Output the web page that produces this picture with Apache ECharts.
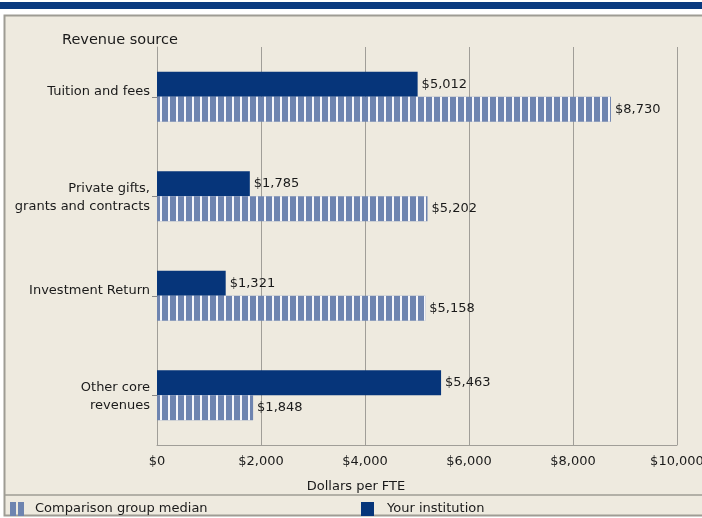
<!DOCTYPE html>
<html>
<head>
<meta charset="utf-8">
<script src="https://cdn.jsdelivr.net/npm/echarts@6/dist/echarts.min.js"></script>
<style>
html,body{margin:0;padding:0;background:#fff;}
#chart{width:702px;height:518px;}
</style>
</head>
<body>
<div id="chart"></div>
<script>
var categories = ['Tuition and fees', 'Private gifts,\ngrants and contracts', 'Investment Return', 'Other core\nrevenues'];
var yourInstitution = [5012, 1785, 1321, 5463];
var comparisonMedian = [8730, 5202, 5158, 1848];
var xMin = 0, xMax = 10000, xInterval = 2000;
var seriesNames = ['Comparison group median', 'Your institution'];

var FONT = 'DejaVu Sans';
var DARK = '#06357A';
var STRIPE = '#6E84B0';
var BG = '#EEEADF';
var GRID = '#A09E98';
var TXT = '#1a1a1a';

function money(v) {
  return '$' + String(v).replace(/\B(?=(\d{3})+(?!\d))/g, ',');
}

var chart = echarts.init(document.getElementById('chart'));
chart.setOption({
  backgroundColor: '#fff',
  animation: false,
  title: {
    text: 'Revenue source', left: 57, top: 28,
    textStyle: { fontFamily: FONT, fontSize: 14.5, fontWeight: 'normal', color: TXT }
  },
  graphic: [
    { type: 'rect', z: -10, shape: { x: 0, y: 2, width: 702, height: 7 }, style: { fill: '#0A3A7F' } },
    { type: 'rect', z: -10, shape: { x: 4.5, y: 15.5, width: 720, height: 500 }, style: { fill: BG, stroke: '#9E9C94', lineWidth: 2 } },
    { type: 'line', z: -9, shape: { x1: 5, y1: 495, x2: 702, y2: 495 }, style: { stroke: '#9E9C94', lineWidth: 1.5 } }
  ],
  grid: { left: 157, right: 25, top: 47, bottom: 73, containLabel: false, outerBoundsMode: 'none' },
  legend: [
    {
      left: 5, top: 497, itemWidth: 14, itemHeight: 14,
      data: [{ name: seriesNames[0], icon: 'path://M0,0h6v14h-6z M8,0h6v14h-6z', itemStyle: { color: STRIPE, decal: 'none' } }],
      textStyle: { fontFamily: FONT, fontSize: 13, color: TXT, padding: [0, 0, 0, 6] }
    },
    {
      left: 356, top: 497, itemWidth: 13, itemHeight: 14,
      data: [{ name: seriesNames[1], icon: 'rect' }],
      textStyle: { fontFamily: FONT, fontSize: 13, color: TXT, padding: [0, 0, 0, 8] }
    }
  ],
  xAxis: {
    type: 'value', min: xMin, max: xMax, interval: xInterval,
    name: 'Dollars per FTE', nameLocation: 'middle', nameGap: 35,
    nameTextStyle: { fontFamily: FONT, fontSize: 13, color: TXT, padding: [0, 122, 0, 0] },
    axisLine: { show: true, lineStyle: { color: GRID, width: 1 } },
    axisTick: { show: false },
    axisLabel: { formatter: money, margin: 10, fontFamily: FONT, fontSize: 13, color: TXT },
    splitLine: { show: true, lineStyle: { color: GRID, width: 1 } }
  },
  yAxis: {
    type: 'category', data: categories, inverse: true,
    axisLine: { show: true, lineStyle: { color: GRID, width: 1 } },
    axisTick: { show: true, alignWithLabel: true, length: 5, lineStyle: { color: '#888' } },
    axisLabel: {
      margin: 7, fontFamily: FONT, fontSize: 13, color: TXT,
      formatter: function (v) {
        if (v.indexOf('\n') < 0) return '{s|' + v + '}';
        return v.split('\n').map(function (l) { return '{m|' + l + '}'; }).join('\n');
      },
      rich: {
        s: { fontFamily: FONT, fontSize: 13, color: TXT, padding: [0, 0, 11, 0] },
        m: { fontFamily: FONT, fontSize: 13, color: TXT, lineHeight: 18, padding: [3, 0, 0, 0] }
      }
    },
    splitLine: { show: false }
  },
  series: [
    {
      name: seriesNames[1], type: 'bar', data: yourInstitution,
      barWidth: 25, barGap: '0%',
      itemStyle: { color: DARK },
      label: { show: true, position: 'right', distance: 4, formatter: function (p) { return money(p.value); }, fontFamily: FONT, fontSize: 13, color: TXT }
    },
    {
      name: seriesNames[0], type: 'bar', data: comparisonMedian,
      barWidth: 25, barGap: '0%',
      itemStyle: {
        color: STRIPE,
        decal: { symbol: 'rect', symbolSize: 1, dashArrayX: [2, 6], dashArrayY: [10, 0], color: '#F6F6FA', rotation: 0 }
      },
      label: { show: true, position: 'right', distance: 4, formatter: function (p) { return money(p.value); }, fontFamily: FONT, fontSize: 13, color: TXT }
    }
  ]
});
</script>
</body>
</html>
